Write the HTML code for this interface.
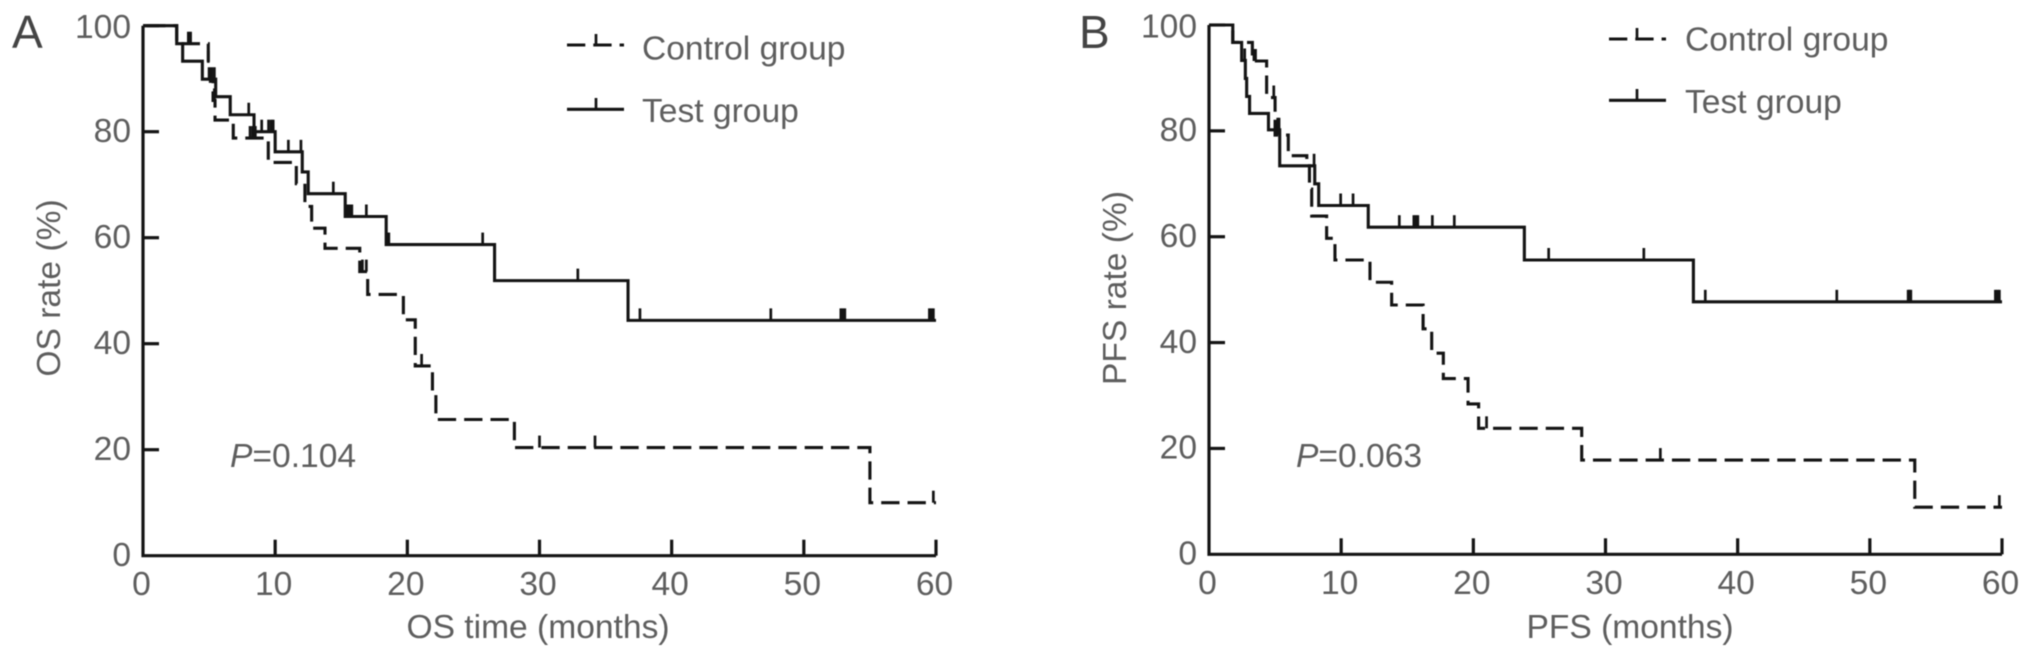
<!DOCTYPE html>
<html lang="en">
<head>
<meta charset="utf-8">
<title>Kaplan-Meier curves</title>
<style>
html,body{margin:0;padding:0;background:#fff;width:2032px;height:659px;overflow:hidden}
svg{display:block;filter:blur(0.55px)}
text{font-family:"Liberation Sans",Arial,sans-serif;font-size:33.6px;fill:#5e5e5e}
.panel-letter{font-size:46px;fill:#444}
.axis,.tick,.curve,.censor,.key{fill:none;stroke:#141414}
.axis,.tick{stroke-width:3.2}
.curve,.key{stroke-width:3.1}
.censor{stroke-width:2.7}
</style>
</head>
<body>
<svg id="chart" xmlns="http://www.w3.org/2000/svg" width="2032" height="659" viewBox="0 0 2032 659">
  <rect width="2032" height="659" fill="#fff"/>

  <g id="panel-a">
    <text class="panel-letter" x="12" y="48">A</text>
    <text transform="translate(60 288) rotate(-90)" text-anchor="middle">OS rate (%)</text>
    <text x="538" y="638" text-anchor="middle">OS time (months)</text>
    <text x="230" y="467"><tspan font-style="italic">P</tspan>=0.104</text>
    <g>
      <g>
        <path class="key" d="M567 45H624" stroke-dasharray="18.3 8"/>
        <path class="censor" d="M596 45V34"/>
        <text x="642" y="59.5">Control group</text>
      </g>
      <g>
        <path class="key" d="M567 109.3H624"/>
        <path class="censor" d="M596 109V98"/>
        <text x="642" y="122">Test group</text>
      </g>
    </g>
  </g>

  <g id="panel-b">
    <text class="panel-letter" x="1079" y="48">B</text>
    <text transform="translate(1126 288) rotate(-90)" text-anchor="middle">PFS rate (%)</text>
    <text x="1630" y="638" text-anchor="middle">PFS (months)</text>
    <text x="1296" y="467"><tspan font-style="italic">P</tspan>=0.063</text>
    <g>
      <g>
        <path class="key" d="M1609 39H1666" stroke-dasharray="18.3 8"/>
        <path class="censor" d="M1637 39V28"/>
        <text x="1685" y="50.5">Control group</text>
      </g>
      <g>
        <path class="key" d="M1609 100.3H1666"/>
        <path class="censor" d="M1637 100V89"/>
        <text x="1685" y="113">Test group</text>
      </g>
    </g>
  </g>
</svg>

<script>
const xTickLabels = [0, 10, 20, 30, 40, 50, 60];
const yTickLabels = [0, 20, 40, 60, 80, 100];

const osControlTimes = [0, 2.55, 4.94, 5.1, 5.3, 5.45, 6.83, 9.48, 11.6, 12.25, 12.76, 13.77, 16.4, 17.0, 19.7, 20.6, 21.9, 22.16, 28.1, 55.0];
const osControlRates = [100, 96.6, 93, 89.5, 85.9, 82.2, 78.8, 74.2, 70.2, 65.9, 61.8, 58, 53.6, 49.3, 44.5, 35.8, 30.7, 25.7, 20.4, 10];
const osControlCensors = [3.43, 3.6, 4.94, 5.4, 8.1, 8.3, 8.5, 16.6, 16.9, 21.08, 30.0, 34.2, 59.8];

const osTestTimes = [0, 2.55, 3.0, 4.49, 5.5, 6.6, 8.4, 10.0, 12.05, 12.5, 15.3, 18.4, 26.6, 36.7];
const osTestRates = [100, 96.6, 93.3, 89.9, 86.6, 83.2, 80, 76.2, 72.4, 68.3, 64, 58.7, 51.9, 44.4];
const osTestCensors = [5.0, 5.2, 5.4, 8.0, 8.98, 9.5, 9.7, 9.85, 11.0, 11.95, 14.4, 15.4, 15.55, 15.7, 15.8, 16.9, 18.5, 18.6, 25.7, 32.9, 37.6, 47.5, 52.8, 52.95, 53.1, 59.5, 59.65, 59.8];

const pfsControlTimes = [0, 1.8, 3.28, 4.36, 5.0, 6.0, 7.4, 7.6, 7.77, 8.9, 9.53, 12.18, 13.82, 16.2, 16.85, 17.73, 19.6, 20.4, 28.2, 53.4];
const pfsControlRates = [100, 96.7, 93.2, 86.3, 79.2, 75.3, 73.4, 69, 63.9, 59.7, 55.6, 51.4, 47.1, 42.6, 38, 33.2, 28.4, 23.8, 17.8, 8.9];
const pfsControlCensors = [3.4, 3.52, 4.9, 5.2, 16.2, 21.0, 34.15, 59.8];

const pfsTestTimes = [0, 1.8, 2.47, 2.75, 2.85, 3.07, 4.5, 5.35, 8.0, 8.3, 12.05, 23.86, 36.65];
const pfsTestRates = [100, 96.7, 93.3, 89.9, 86.5, 83.3, 80.2, 73.4, 70, 65.9, 61.8, 55.6, 47.7];
const pfsTestCensors = [2.7, 5.2, 5.3, 7.95, 9.96, 10.9, 14.4, 15.5, 15.65, 15.8, 16.9, 18.56, 25.7, 32.9, 37.55, 47.5, 52.9, 53.0, 53.1, 59.5, 59.65, 59.8];

const SVG_NS = 'http://www.w3.org/2000/svg';
const X_MAX = 60;
const TICK_LEN = 16;
const CENSOR_LEN = 12;

function linearScale(pixelAtZero, pixelPerUnit) {
  return function (v) { return pixelAtZero + v * pixelPerUnit; };
}

function newEl(tag, cls, d) {
  const el = document.createElementNS(SVG_NS, tag);
  if (cls) el.setAttribute('class', cls);
  if (d) el.setAttribute('d', d);
  return el;
}

function stepPath(times, rates, xs, ys) {
  let d = 'M' + xs(times[0]) + ' ' + ys(rates[0]);
  for (let i = 1; i < times.length; i++) {
    d += 'H' + xs(times[i]) + 'V' + ys(rates[i]);
  }
  return d + 'H' + xs(X_MAX);
}

function rateAt(t, times, rates) {
  let r = rates[0];
  for (let i = 0; i < times.length; i++) {
    if (times[i] <= t) r = rates[i];
  }
  return r;
}

function drawAxes(host, prefix, xs, ys) {
  const axisPath = newEl('path', 'axis', 'M' + xs(0) + ' ' + ys(100) + 'V' + ys(0) + 'H' + xs(X_MAX));
  
  
  host.appendChild(axisPath);

  xTickLabels.forEach(function (v) {
    if (v > 0) {
      const mark = newEl('path', 'tick', 'M' + xs(v) + ' ' + ys(0) + 'v' + (-TICK_LEN));
      
      
      host.appendChild(mark);
    }
    const label = newEl('text');
    
    
    label.setAttribute('x', xs(v) - 1.5);
    label.setAttribute('y', ys(0) + 39.5);
    label.setAttribute('text-anchor', 'middle');
    label.textContent = v;
    host.appendChild(label);
  });

  yTickLabels.forEach(function (v) {
    if (v > 0) {
      const mark = newEl('path', 'tick', 'M' + xs(0) + ' ' + ys(v) + 'h' + TICK_LEN);
      
      
      host.appendChild(mark);
    }
    const label = newEl('text');
    
    
    label.setAttribute('x', xs(0) - 12);
    label.setAttribute('y', ys(v) + (v === 100 ? 12.5 : 10.3));
    label.setAttribute('text-anchor', 'end');
    label.textContent = v;
    host.appendChild(label);
  });
}

function drawSeries(host, name, times, rates, censors, xs, ys, dash, dashOffset) {
  const curve = newEl('path', 'curve', stepPath(times, rates, xs, ys));
  
  
  if (dash) {
    curve.setAttribute('stroke-dasharray', dash);
    curve.setAttribute('stroke-dashoffset', dashOffset);
  }
  host.appendChild(curve);

  censors.forEach(function (t, i) {
    const y = ys(rateAt(t, times, rates));
    const tick = newEl('path', 'censor', 'M' + xs(t) + ' ' + y + 'v' + (-CENSOR_LEN));
    
    
    host.appendChild(tick);
  });
}

const panelAHost = document.getElementById('panel-a');
const panelBHost = document.getElementById('panel-b');

const osX = linearScale(143, 793 / 60);
const osY = linearScale(555.7, -5.3);
const pfsX = linearScale(1209, 793 / 60);
const pfsY = linearScale(554.3, -5.293);

drawAxes(panelAHost, 'os', osX, osY);
drawSeries(panelAHost, 'os-control', osControlTimes, osControlRates, osControlCensors, osX, osY, '18.3 8.03', 22.3);
drawSeries(panelAHost, 'os-test', osTestTimes, osTestRates, osTestCensors, osX, osY, null, 0);

drawAxes(panelBHost, 'pfs', pfsX, pfsY);
drawSeries(panelBHost, 'pfs-control', pfsControlTimes, pfsControlRates, pfsControlCensors, pfsX, pfsY, '18.3 8.03', 23.5);
drawSeries(panelBHost, 'pfs-test', pfsTestTimes, pfsTestRates, pfsTestCensors, pfsX, pfsY, null, 0);
</script>
</body>
</html>
